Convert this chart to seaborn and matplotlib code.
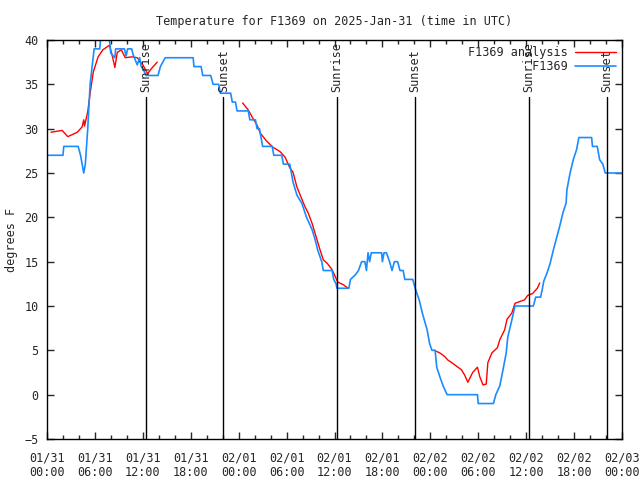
import pandas as pd
import matplotlib
matplotlib.use('Agg')
import matplotlib.pyplot as plt
from matplotlib.lines import Line2D
import seaborn as sns

# F1369 observations (hours since 01/31 00:00 UTC, deg F)
obs_hours = [0.1, 2.0, 2.1, 3.9, 4.2, 4.4, 4.6, 4.8, 5.1, 5.4, 5.9, 6.6, 6.8, 7.7, 8.0, 8.5, 8.6,
             9.7, 9.9, 10.1, 10.6, 10.8, 11.3, 11.6, 11.8, 12.1, 12.4, 13.9, 14.2, 14.8, 18.3,
             18.4, 19.3, 19.5, 20.5, 20.8, 21.5, 21.7, 23.0, 23.2, 23.6, 23.8, 25.2, 25.4, 26.1,
             26.3, 26.6, 26.8, 27.0, 28.2, 28.4, 29.4, 29.6, 30.4, 30.8, 31.3, 31.9, 32.5, 33.2,
             33.6, 33.9, 34.4, 34.6, 35.7, 35.9, 36.2, 36.3, 37.8, 38.0, 38.6, 39.0, 39.4, 39.8,
             40.0, 40.2, 40.4, 40.6, 41.9, 42.0, 42.2, 42.5, 42.9, 43.2, 43.5, 43.9, 44.2, 44.6,
             44.8, 45.8, 46.1, 46.6, 47.0, 47.6, 47.9, 48.2, 48.6, 48.8, 49.2, 49.6, 50.1, 53.9,
             54.0, 55.9, 56.2, 56.7, 57.1, 57.5, 57.7, 58.2, 58.6, 60.9, 61.2, 61.8, 62.0, 62.2,
             62.6, 63.0, 63.4, 63.9, 64.2, 64.6, 65.0, 65.1, 65.5, 65.9, 66.3, 66.6, 68.2, 68.3,
             68.9, 69.2, 69.6, 69.9, 72.0]
obs_temps = [27, 27, 28, 28, 27, 26, 25, 26, 30, 35, 39, 39, 41, 41, 38.5, 38, 39,
             39, 38.2, 39, 39, 38.3, 37.2, 38, 37, 36.6, 36, 36, 37, 38, 38,
             37, 37, 36, 36, 35, 35, 34, 34, 33, 33, 32, 32, 31, 31,
             30, 30, 29, 28, 28, 27, 27, 26, 26, 24, 22.5, 21.6, 20, 18.6,
             17.4, 16.3, 15, 14, 14, 13, 12.5, 12, 12, 13, 13.5, 14, 15, 15,
             14, 16, 15, 16, 16, 15, 16, 16, 15, 14, 15, 15, 14, 14,
             13, 13, 12, 10.7, 9.2, 7.3, 5.8, 5, 5, 3.1, 2, 1, 0, 0,
             -1, -1, 0, 1, 2.8, 4.7, 6.5, 8.4, 10, 10, 11, 11, 11.8, 12.8,
             13.7, 14.8, 16.3, 18, 19, 20.5, 21.6, 23.1, 25, 26.5, 27.6, 29, 29, 28,
             28, 26.5, 26, 25, 25]

# F1369 analysis, three separate runs
ana_hours = [
    [0.5, 1.9, 2.6, 3.8, 4.4, 4.6, 4.7, 5.1, 5.4, 5.8, 6.4, 7.0, 7.8, 8.1, 8.5, 8.8, 9.3,
     9.8, 10.6, 11.3, 12.0, 12.6, 13.1, 13.8],
    [24.5, 25.2, 25.7, 26.3, 26.7, 27.5, 28.3, 29.2, 29.8, 30.4, 30.8, 31.3, 31.8, 32.3,
     32.7, 33.2, 33.7, 34.2, 34.6, 35.1, 35.7, 36.1, 36.4, 37.1, 37.7],
    [48.5, 49.2, 49.8, 50.2, 50.7, 51.3, 51.9, 52.3, 52.7, 53.3, 53.9, 54.2, 54.6, 55.0,
     55.2, 55.7, 56.4, 56.7, 57.3, 57.6, 58.2, 58.6, 59.2, 59.8, 60.2, 60.8, 61.4, 61.7],
]
ana_temps = [
    [29.6, 29.8, 29.1, 29.6, 30.2, 31, 30.3, 31.9, 34, 36.4, 38.1, 38.9, 39.4, 38.5, 36.9,
     38.6, 38.9, 38, 38.1, 38, 37.2, 36.2, 36.8, 37.5],
    [32.9, 32.1, 31.3, 30.4, 29.5, 28.6, 27.9, 27.4, 26.8, 25.6, 25.1, 23.4, 22.3, 21.2,
     20.5, 19.3, 17.8, 16.3, 15.2, 14.8, 14.1, 13.3, 12.7, 12.4, 12],
    [5, 4.7, 4.3, 3.9, 3.6, 3.2, 2.8, 2.2, 1.4, 2.5, 3.1, 2, 1.1, 1.2, 3.6, 4.7, 5.3, 6.2,
     7.3, 8.5, 9.2, 10.3, 10.5, 10.7, 11.2, 11.4, 12, 12.6],
]

sun_hours = [12.4, 22.1, 36.3, 46.1, 60.3, 70.1]
sun_labels = ['Sunrise', 'Sunset', 'Sunrise', 'Sunset', 'Sunrise', 'Sunset']

tick_hours = list(range(0, 73, 6))
tick_labels = ['01/31\n00:00', '01/31\n06:00', '01/31\n12:00', '01/31\n18:00',
               '02/01\n00:00', '02/01\n06:00', '02/01\n12:00', '02/01\n18:00',
               '02/02\n00:00', '02/02\n06:00', '02/02\n12:00', '02/02\n18:00',
               '02/03\n00:00']

obs = pd.DataFrame({'hour': obs_hours, 'temp': obs_temps})
rows = []
for i, (hs, ts) in enumerate(zip(ana_hours, ana_temps)):
    for h, t in zip(hs, ts):
        rows.append({'hour': h, 'temp': t, 'seg': i})
ana = pd.DataFrame(rows)

sns.set_style('ticks')
plt.rcParams['font.family'] = ['DejaVu Sans Mono', 'DejaVu Sans']
plt.rcParams['font.size'] = 8

RED = '#ff0000'
BLUE = '#1a8cff'

fig = plt.figure(figsize=(6.4, 4.8), dpi=100)
ax = fig.add_axes([47 / 640, 1 - 439 / 480, 575 / 640, 399 / 480])

sns.lineplot(data=ana, x='hour', y='temp', units='seg', estimator=None, sort=False,
             color=RED, linewidth=1, ax=ax)
sns.lineplot(data=obs, x='hour', y='temp', estimator=None, sort=False,
             color=BLUE, linewidth=1.2, ax=ax)

for h, lab in zip(sun_hours, sun_labels):
    ax.plot([h, h], [-5, 33.6], color='black', linewidth=1)
    ax.text(h, 34.1, lab, rotation=90, ha='center', va='bottom', fontsize=8.5)

ax.set_xlim(0, 72)
ax.set_ylim(-5, 40)
ax.set_xticks(tick_hours)
ax.set_xticklabels(tick_labels, linespacing=1.15)
ax.set_xticks(range(0, 73, 2), minor=True)
ax.set_yticks(range(-5, 41, 5))
ax.tick_params(which='both', direction='in', top=True, right=True, length=5, width=1,
               labelsize=8.5)
ax.tick_params(which='minor', length=3)
ax.tick_params(axis='x', pad=9)
ax.tick_params(axis='y', pad=6)
ax.set_xlabel('')
ax.set_ylabel('degrees F', fontsize=8.5)
ax.yaxis.set_label_coords(-0.05, 0.5)
for s in ax.spines.values():
    s.set_linewidth(1)
    s.set_color('black')

ax.set_title('Temperature for F1369 on 2025-Jan-31 (time in UTC)', fontsize=8.5, pad=11)

handles = [Line2D([], [], color=RED, linewidth=1), Line2D([], [], color=BLUE, linewidth=1.2)]
ax.legend(handles, ['F1369 analysis', '         F1369'], loc='upper right', frameon=False,
          markerfirst=False, fontsize=8.5, handlelength=3.5, borderaxespad=0.1,
          labelspacing=0.1, handletextpad=0.6)

fig.savefig('out.png', dpi=100)
